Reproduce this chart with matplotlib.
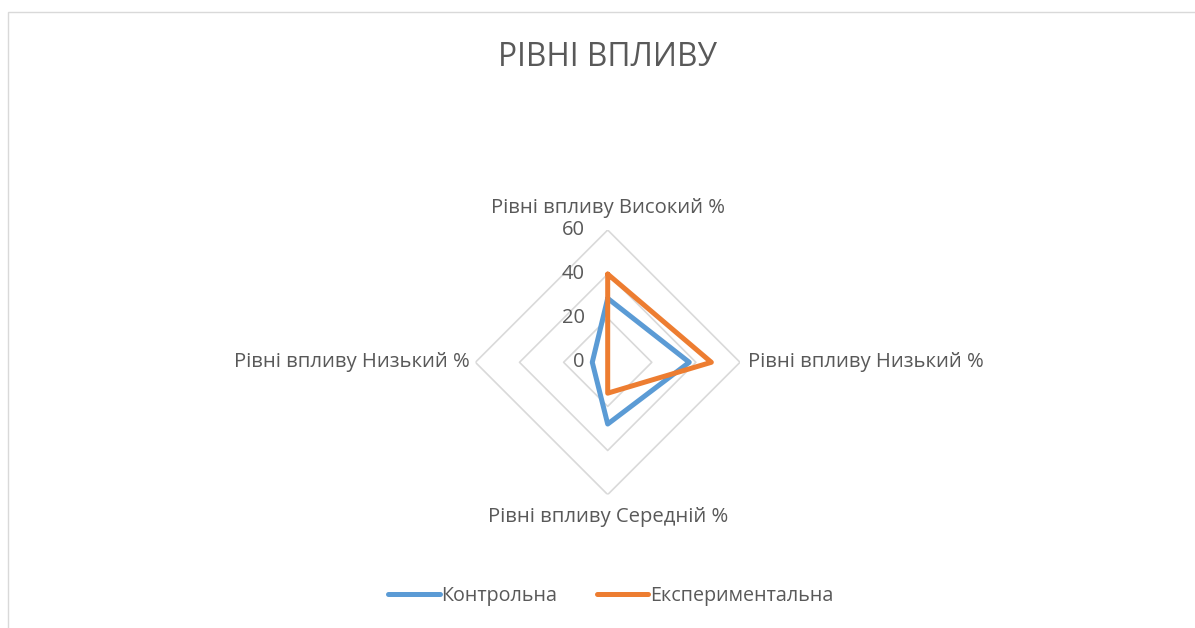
import numpy as np
import matplotlib.pyplot as plt
from matplotlib.patches import Rectangle

plt.rcParams['font.family'] = ['Open Sans', 'DejaVu Sans']

# дані
categories = ['Рівні впливу Високий %', 'Рівні впливу Низький %',
              'Рівні впливу Середній %', 'Рівні впливу Низький %']
control = [29, 37, 28, 7]
experimental = [40, 47, 14, 0]
ticks = [0, 20, 40, 60]
series_names = ['Контрольна', 'Експериментальна']

grey_text = '#595959'
grid_color = '#D9D9D9'
colors = ['#5B9BD5', '#ED7D31']

W, H = 1195, 628
fig = plt.figure(figsize=(W / 100, H / 100), dpi=100)

# рамка області діаграми
fig.patches.append(Rectangle((8 / W, -0.05), 1.1, 1 - 12 / H + 0.05,
                             transform=fig.transFigure, fill=False,
                             edgecolor=grid_color, linewidth=1))

fig.text(608 / W, 1 - 57 / H, 'РІВНІ ВПЛИВУ', ha='center', va='center',
         fontsize=22.8, color=grey_text)

# полярна вісь
cx, cy, rad = 607.7, 362.3, 132.3
ax = fig.add_axes([(cx - rad) / W, (H - cy - rad) / H, 2 * rad / W, 2 * rad / H],
                  projection='polar')
ax.set_theta_offset(np.pi / 2)
ax.set_theta_direction(-1)
ax.set_ylim(0, 60)
ax.set_xticks([])
ax.set_yticks([])
ax.grid(False)
ax.spines['polar'].set_visible(False)
ax.patch.set_alpha(0)

angles = np.linspace(0, 2 * np.pi, len(categories), endpoint=False)
closed = np.append(angles, angles[0])

# сітка у вигляді ромбів
for t in ticks[1:]:
    ax.plot(closed, [t] * len(closed), color=grid_color, linewidth=1.2, zorder=1)

# підписи шкали
for t in ticks:
    ax.annotate(str(t), xy=(0, t), xytext=(-23, 0), textcoords='offset pixels',
                ha='right', va='center', fontsize=14.5, color=grey_text)

# підписи категорій
offsets = [(0, 22, 'center', 'center'), (8, 0, 'left', 'center'),
           (0, -22, 'center', 'center'), (-6, 0, 'right', 'center')]
for a, lab, (dx, dy, ha, va) in zip(angles, categories, offsets):
    ax.annotate(lab, xy=(a, 60), xytext=(dx, dy), textcoords='offset pixels',
                ha=ha, va=va, fontsize=14.6, color=grey_text)

for vals, name, c in zip([control, experimental], series_names, colors):
    ax.plot(closed, vals + vals[:1], color=c, linewidth=3.6, label=name,
            solid_joinstyle='round', solid_capstyle='round', zorder=3)

fig.legend(loc='center', bbox_to_anchor=(611 / W, 32 / H), ncol=2,
           frameon=False, fontsize=14.2, handlelength=2.6, handletextpad=0.1,
           columnspacing=2.0, labelcolor=grey_text)

plt.savefig('out.png', dpi=100)
